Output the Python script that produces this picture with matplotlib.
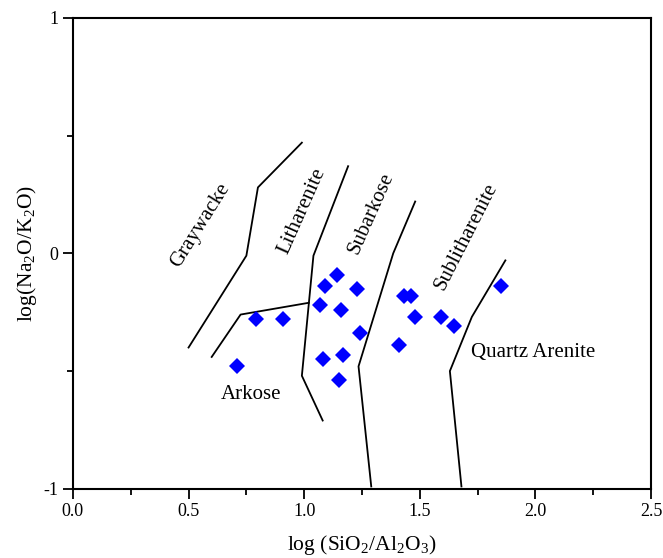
import matplotlib
matplotlib.use('Agg')
import matplotlib.pyplot as plt
from matplotlib.ticker import MultipleLocator

plt.rcParams['font.family'] = ['Liberation Serif', 'DejaVu Serif']
plt.rcParams['mathtext.fontset'] = 'custom'
plt.rcParams['mathtext.rm'] = 'Liberation Serif'
plt.rcParams['mathtext.it'] = 'Liberation Serif:italic'

# sample points: log(SiO2/Al2O3), log(Na2O/K2O)
sample_x = [1.14, 1.09, 1.23, 1.07, 1.16, 0.79, 0.91, 1.24, 1.43, 1.46,
            1.48, 1.59, 1.65, 1.41, 1.08, 1.17, 1.15, 0.71, 1.85]
sample_y = [-0.09, -0.14, -0.15, -0.22, -0.24, -0.28, -0.28, -0.34, -0.18, -0.18,
            -0.27, -0.27, -0.31, -0.39, -0.45, -0.43, -0.54, -0.48, -0.14]

# field boundaries
graywacke_x = [0.50, 0.75, 0.80, 0.99]
graywacke_y = [-0.40, -0.01, 0.28, 0.47]
arkose_x = [0.60, 0.725, 1.02]
arkose_y = [-0.44, -0.26, -0.21]
subarkose_x = [1.19, 1.04, 0.99, 1.08]
subarkose_y = [0.37, -0.01, -0.52, -0.71]
sublith_x = [1.48, 1.385, 1.235, 1.29]
sublith_y = [0.22, 0.00, -0.48, -0.99]
quartz_x = [1.87, 1.725, 1.63, 1.68]
quartz_y = [-0.03, -0.27, -0.50, -0.99]

fig = plt.figure(figsize=(6.63, 5.58), dpi=100)
ax = fig.add_axes([0.110, 0.124, 0.872, 0.844])

for bx, by in [(graywacke_x, graywacke_y), (arkose_x, arkose_y),
               (subarkose_x, subarkose_y), (sublith_x, sublith_y),
               (quartz_x, quartz_y)]:
    ax.plot(bx, by, color='black', linewidth=1.3)

ax.plot(sample_x, sample_y, linestyle='none', marker='D', markersize=8.5,
        color='#0000ff', markeredgewidth=0)

fs = 15
ax.text(0.55, 0.12, 'Graywacke', rotation=58, fontsize=fs, ha='center', va='center')
ax.text(0.99, 0.18, 'Litharenite', rotation=66, fontsize=fs, ha='center', va='center')
ax.text(1.29, 0.17, 'Subarkose', rotation=66, fontsize=fs, ha='center', va='center')
ax.text(1.70, 0.07, 'Sublitharenite', rotation=63, fontsize=fs, ha='center', va='center')
ax.text(0.77, -0.60, 'Arkose', fontsize=fs, ha='center', va='center')
ax.text(1.99, -0.42, 'Quartz Arenite', fontsize=fs, ha='center', va='center')

ax.set_xlim(0, 2.5)
ax.set_ylim(-1, 1)
ax.xaxis.set_major_locator(MultipleLocator(0.5))
ax.xaxis.set_minor_locator(MultipleLocator(0.25))
ax.yaxis.set_major_locator(MultipleLocator(1))
ax.yaxis.set_minor_locator(MultipleLocator(0.5))
ax.xaxis.set_major_formatter(matplotlib.ticker.FormatStrFormatter('%.1f'))
ax.yaxis.set_major_formatter(matplotlib.ticker.FuncFormatter(lambda v, p: '%d' % v))
ax.tick_params(which='both', direction='out', top=False, right=False, width=1.3,
               labelsize=13)
ax.tick_params(which='major', length=7)
ax.tick_params(which='minor', length=4)
for s in ax.spines.values():
    s.set_linewidth(1.5)

ax.set_xlabel(r'log (SiO$_2$/Al$_2$O$_3$)', fontsize=15.5, labelpad=9)
ax.set_ylabel(r'log(Na$_2$O/K$_2$O)', fontsize=15.5, labelpad=3)

plt.savefig('out.png', dpi=100)
plt.close()
